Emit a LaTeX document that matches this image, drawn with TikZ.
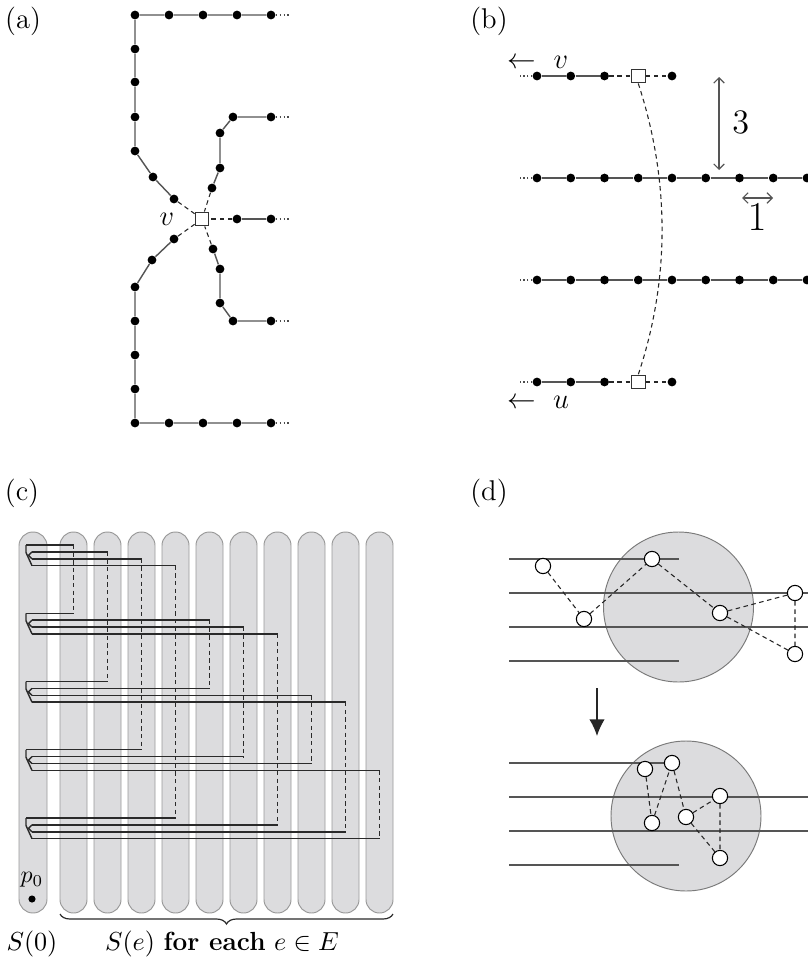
\documentclass[tikz,border=0pt]{standalone}
\usepackage{amsmath,amssymb}
\usepackage{tikz}
\usetikzlibrary{arrows.meta, positioning, calc, decorations.pathreplacing}
\definecolor{WireGray}{HTML}{2A2A2A}
\definecolor{TrackGray}{HTML}{555555}
\definecolor{StripFill}{HTML}{DCDCDE}
\definecolor{StripEdge}{HTML}{9A9A9A}
\definecolor{DiskEdge}{HTML}{7A7A7A}
\tikzset{
  dotnode/.style={circle, fill=black, inner sep=0pt, minimum size=3.7pt},
  portbox/.style={rectangle, draw=black!80, fill=white, line width=0.45pt, inner sep=0pt, minimum size=5.8pt},
  ringnode/.style={circle, draw=black, fill=white, line width=0.45pt, inner sep=0pt, minimum size=6.4pt},
  panellabel/.style={font=\large},
  chainedge/.style={draw=TrackGray, line width=0.6pt},
  gapedge/.style={draw=black!85, line width=0.45pt, dash pattern=on 1.9pt off 1.5pt},
  tailedge/.style={draw=black!70, line width=0.5pt, dash pattern=on 0.5pt off 1.1pt},
  wireedge/.style={draw=WireGray, line width=0.6pt},
  wiredash/.style={draw=WireGray, line width=0.5pt, dash pattern=on 1.8pt off 1.4pt},
  stripbox/.style={draw=StripEdge, fill=StripFill, line width=0.4pt},
  zonedisk/.style={circle, draw=DiskEdge, fill=StripFill, line width=0.4pt, inner sep=0pt, minimum size=63pt},
  trackline/.style={draw=TrackGray, line width=0.6pt},
  measurearrow/.style={{Straight Barb[length=2.2pt,width=4.4pt]}-{Straight Barb[length=2.2pt,width=4.4pt]}, draw=TrackGray, line width=0.5pt},
  downarrow/.style={-{Latex[length=7pt,width=6.5pt]}, line width=0.6pt, draw=black!85}
}

\begin{document}
\begin{tikzpicture}[x=0.42pt, y=-0.42pt]
  \useasboundingbox (0,0) rectangle (808,961);

  % (a) the gadget around v
  \node[panellabel] (labA) at (23,21) {(a)};
  \foreach \k in {1,...,5} {
    \node[dotnode] (t\k) at ({135+34*(\k-1)},15) {};
    \node[dotnode] (b\k) at ({135+34*(\k-1)},423) {};
  }
  \foreach \k/\y in {1/49,2/82,3/117,4/151} \node[dotnode] (l\k) at (135,\y) {};
  \foreach \k/\y in {1/389,2/355,3/321} \node[dotnode] (c\k) at (135,\y) {};
  \node[dotnode] (d1) at (153,177) {};
  \node[dotnode] (d2) at (174,199) {};
  \node[dotnode] (e1) at (174,239) {};
  \node[dotnode] (e2) at (152,260) {};
  \node[dotnode] (e3) at (135,287) {};
  \node[dotnode] (r1) at (212,188) {};
  \node[dotnode] (r2) at (220,168) {};
  \node[dotnode] (r3) at (220,133) {};
  \node[dotnode] (r4) at (233,117) {};
  \node[dotnode] (r5) at (271,117) {};
  \node[dotnode] (m1) at (237,219) {};
  \node[dotnode] (m2) at (271,219) {};
  \node[dotnode] (q1) at (213,249) {};
  \node[dotnode] (q2) at (220,269) {};
  \node[dotnode] (q3) at (220,303) {};
  \node[dotnode] (q4) at (233,321) {};
  \node[dotnode] (q5) at (271,321) {};
  \node[portbox] (sqv) at (202,219) {};
  \node[font=\large] (vA) at (167,219) {$v$};

  \draw[chainedge] (t5) -- (t4) -- (t3) -- (t2) -- (t1) -- (l1) -- (l2) -- (l3) -- (l4) -- (d1) -- (d2);
  \draw[chainedge] (e1) -- (e2) -- (e3) -- (c3) -- (c2) -- (c1) -- (b1) -- (b2) -- (b3) -- (b4) -- (b5);
  \draw[chainedge] (r1) -- (r2) -- (r3) -- (r4) -- (r5);
  \draw[chainedge] (m1) -- (m2);
  \draw[chainedge] (q1) -- (q2) -- (q3) -- (q4) -- (q5);
  \draw[gapedge] (d2) -- (sqv);
  \draw[gapedge] (e1) -- (sqv);
  \draw[gapedge] (r1) -- (sqv);
  \draw[gapedge] (m1) -- (sqv);
  \draw[gapedge] (q1) -- (sqv);
  \foreach \n in {t5,r5,m2,q5,b5} \draw[tailedge] (\n) -- ++(19,0);

  % (b) rows of the grid
  \node[panellabel] (labB) at (489,21) {(b)};
  \foreach \k in {0,...,8} {
    \node[dotnode] (ma\k) at ({537+33.75*\k},178) {};
    \node[dotnode] (mb\k) at ({537+33.75*\k},280) {};
  }
  \foreach \k in {1,...,8} {
    \pgfmathtruncatemacro\prev{\k-1}
    \draw[chainedge] (ma\prev) -- (ma\k);
    \draw[chainedge] (mb\prev) -- (mb\k);
  }
  \foreach \k in {0,1,2} {
    \node[dotnode] (vt\k) at ({537+33.75*\k},76) {};
    \node[dotnode] (ub\k) at ({537+33.75*\k},382) {};
  }
  \node[portbox] (sqtop) at (638.25,76) {};
  \node[portbox] (sqbot) at (638.25,382) {};
  \node[dotnode] (vt4) at (672,76) {};
  \node[dotnode] (ub4) at (672,382) {};
  \draw[chainedge] (vt0) -- (vt1) -- (vt2);
  \draw[chainedge] (ub0) -- (ub1) -- (ub2);
  \draw[gapedge] (vt2) -- (sqtop) -- (vt4);
  \draw[gapedge] (ub2) -- (sqbot) -- (ub4);
  \draw[gapedge] (sqtop.south) .. controls (670,180) and (670,280) .. (sqbot.north);
  \foreach \n in {vt0,ma0,mb0,ub0} \draw[tailedge] (\n) -- ++(-20,0);
  \node[font=\large] (vtag) at (538,62) {$\leftarrow\hspace{4pt}v$};
  \node[font=\large] (utag) at (538,402) {$\leftarrow\hspace{4pt}u$};
  \coordinate (h3a) at (719,77);
  \coordinate (h3b) at (719,170);
  \draw[measurearrow] (h3a) -- (h3b);
  \node[font=\Large, anchor=west] (three) at (724,122) {$3$};
  \coordinate (h1a) at (742,198);
  \coordinate (h1b) at (773,198);
  \draw[measurearrow] (h1a) -- (h1b);
  \node[font=\LARGE] (one) at (757,217) {$1$};

  % (c) strips and wires
  \node[panellabel] (labC) at (22,493) {(c)};
  \draw[stripbox, rounded corners=5.85pt] (19,532) rectangle (47,913);
  \foreach \e in {1,...,10}
    \draw[stripbox, rounded corners=5.65pt] ({60+34*(\e-1)},532) rectangle ({87+34*(\e-1)},913);
  \foreach \i/\j/\e in {1/2/1,1/3/2,1/4/3,1/5/4,2/3/5,2/4/6,2/5/7,3/4/8,3/5/9,4/5/10} {
    \pgfmathsetmacro\xe{73.5+34*(\e-1)}
    \pgfmathsetmacro\ya{545+68.25*(\i-1)+6.9*(\j-2)}
    \pgfmathsetmacro\yb{545+68.25*(\j-1)+6.9*(\i-1)}
    \pgfmathsetmacro\xa{ifthenelse(\j==2,26,32)}
    \pgfmathsetmacro\xb{ifthenelse(\i==1,26,32)}
    \draw[wireedge] (\xa,\ya) -- (\xe,\ya);
    \draw[wireedge] (\xb,\yb) -- (\xe,\yb);
    \draw[wiredash] (\xe,\ya) -- (\xe,\yb);
  }
  \foreach \i in {1,...,5} {
    \pgfmathsetmacro\yg{545+68.25*(\i-1)}
    \draw[wireedge] (26,\yg) -- (26,\yg+7.5) -- (32,\yg+20.7);
    \draw[wireedge] (32,\yg+6.9) -- (28.5,\yg+10.4) -- (32,\yg+13.8);
  }
  \node[dotnode, minimum size=3pt] (pzero) at (32,899) {};
  \node (pzlab) at (32,880) {$p_0$};
  \draw[decorate, decoration={brace, mirror, amplitude=4.2pt}, draw=WireGray, line width=0.5pt] (60,914) -- (393,914);
  \node[font=\fontsize{11}{13}\selectfont] (szero) at (32,944) {$S(0)$};
  \node[font=\fontsize{11}{13}\selectfont] (seach) at (222,944) {$S(e)$ \textbf{for each} $e\in E$};

  % (d) shrinking a cluster
  \node[panellabel] (labD) at (489,493) {(d)};
  \node[zonedisk] (diskUp) at (678.5,607) {};
  \foreach \y/\xe in {559/679, 593/808, 627/808, 661/679} \draw[trackline] (509,\y) -- (\xe,\y);
  \node[ringnode] (ra) at (543,566) {};
  \node[ringnode] (rb) at (584,619) {};
  \node[ringnode] (rc) at (652,559) {};
  \node[ringnode] (rd) at (720,613) {};
  \node[ringnode] (re) at (795,593) {};
  \node[ringnode] (rf) at (795,654) {};
  \draw[gapedge] (ra) -- (rb) -- (rc) -- (rd) -- (re) -- (rf) -- (rd);
  \coordinate (arrTop) at (597,688);
  \coordinate (arrBot) at (597,736);
  \draw[downarrow] (arrTop) -- (arrBot);
  \node[zonedisk] (diskDown) at (686,816) {};
  \foreach \y/\xe in {763/667, 797/808, 831/808, 865/679} \draw[trackline] (509,\y) -- (\xe,\y);
  \node[ringnode] (rg) at (645,769) {};
  \node[ringnode] (rh) at (672,763) {};
  \node[ringnode] (ri) at (652,823) {};
  \node[ringnode] (rj) at (686,817) {};
  \node[ringnode] (rk) at (720,796) {};
  \node[ringnode] (rl) at (720,858) {};
  \draw[gapedge] (rg) -- (ri) -- (rh) -- (rj) -- (rk) -- (rl) -- (rj);
\end{tikzpicture}
\end{document}
